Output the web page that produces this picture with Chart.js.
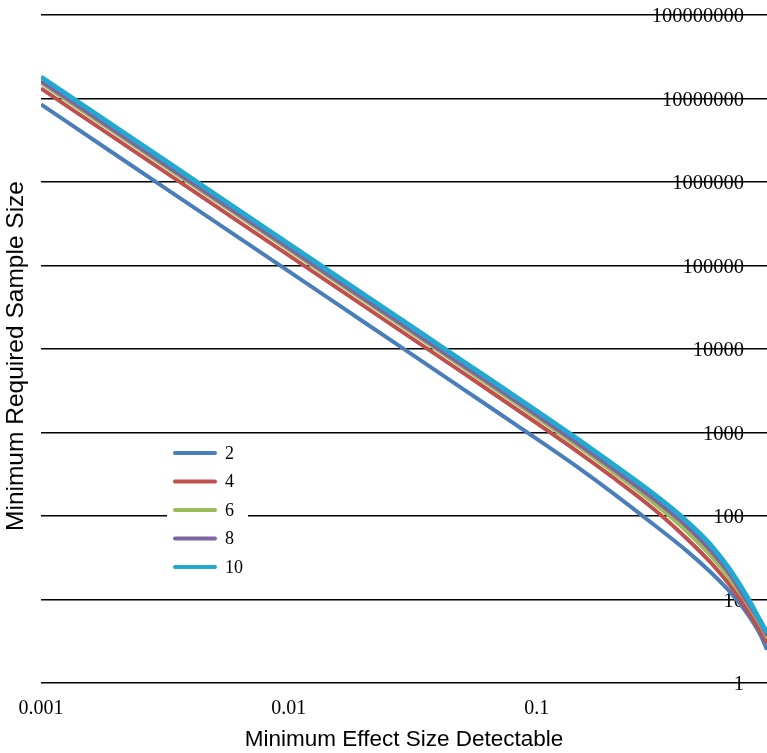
<!DOCTYPE html>
<html>
<head>
<meta charset="utf-8">
<script src="https://cdn.jsdelivr.net/npm/chart.js@4.4.1/dist/chart.umd.min.js"></script>
<style>
  body { margin: 0; background: #fff; }
  #wrap { width: 767px; height: 753px; position: relative; }
</style>
</head>
<body>
<div id="wrap"><canvas id="chart"></canvas></div>
<script>
// значения
const effectSizes = [0.001, 0.002, 0.005, 0.01, 0.02, 0.05, 0.1, 0.15, 0.2, 0.3, 0.4, 0.5, 0.6, 0.7, 0.8, 0.85];
const n2  = [8.5e6, 2.12e6, 3.4e5, 8.5e4, 2.12e4, 3380, 840, 365, 195, 77, 39, 21.6, 12.5, 7.1, 3.75, 2.5];
const n4  = [1.32e7, 3.3e6, 5.28e5, 1.32e5, 3.3e4, 5280, 1300, 560, 300, 118, 55, 28.4, 15, 7.8, 4.1, 3.0];
const n6  = [1.54e7, 3.85e6, 6.16e5, 1.54e5, 3.85e4, 6160, 1520, 653, 350, 139, 67, 34.4, 18, 9.4, 5.0, 3.5];
const n8  = [1.62e7, 4.05e6, 6.48e5, 1.62e5, 4.05e4, 6480, 1620, 702, 380, 156, 77, 39.6, 20.3, 9.8, 5.2, 3.7];
const n10 = [1.81e7, 4.52e6, 7.24e5, 1.81e5, 4.52e4, 7240, 1810, 791, 430, 178, 88, 46, 23, 11.2, 5.5, 4.0];

const seriesLabels = ['2', '4', '6', '8', '10'];
const seriesValues = [n2, n4, n6, n8, n10];
const seriesColors = ['#4A7EBB', '#C0504D', '#9BBB59', '#8064A2', '#23A9D0'];

const xTicks = [0.001, 0.01, 0.1];
const yTicks = [1, 10, 100, 1000, 10000, 100000, 1000000, 10000000, 100000000];

const yTitleText = 'Minimum Required Sample Size';

// легенда внутри области графика + подпись оси Y слева
const extras = {
    id: 'extras',
    afterDraw(chart) {
        const ctx = chart.ctx;
        ctx.save();
        ctx.fillStyle = '#fff';
        ctx.fillRect(167, 440, 81, 142);
        chart.data.datasets.forEach((ds, i) => {
            const y = 453 + i * 28.5;
            ctx.strokeStyle = ds.borderColor;
            ctx.lineWidth = 4;
            ctx.lineCap = 'round';
            ctx.beginPath();
            ctx.moveTo(175, y);
            ctx.lineTo(215, y);
            ctx.stroke();
            ctx.fillStyle = '#000';
            ctx.font = '18px "Liberation Serif"';
            ctx.textBaseline = 'middle';
            ctx.textAlign = 'left';
            ctx.fillText(ds.label, 225, y + 1);
        });

        ctx.translate(16, 356);
        ctx.rotate(-Math.PI / 2);
        ctx.fillStyle = '#000';
        ctx.font = '24.5px "Liberation Sans"';
        ctx.textAlign = 'center';
        ctx.textBaseline = 'middle';
        ctx.fillText(yTitleText, 0, 0);
        ctx.restore();
    }
};

const datasets = seriesValues.map((vals, i) => ({
    label: seriesLabels[i],
    data: effectSizes.map((x, j) => ({ x: x, y: vals[j] })),
    borderColor: seriesColors[i],
    backgroundColor: seriesColors[i],
    borderWidth: i === 4 ? 5 : 4,
    pointRadius: 0,
    cubicInterpolationMode: 'monotone',
    fill: false,
    order: 4 - i
}));

new Chart(document.getElementById('chart'), {
    type: 'line',
    data: { datasets: datasets },
    options: {
        responsive: true,
        maintainAspectRatio: false,
        animation: false,
        layout: { padding: { top: 15, right: 0, bottom: 0, left: 41 } },
        plugins: {
            legend: { display: false },
            tooltip: { enabled: false }
        },
        scales: {
            x: {
                type: 'logarithmic',
                min: 0.001,
                max: 0.85,
                afterBuildTicks: (scale) => { scale.ticks = xTicks.map(v => ({ value: v })); },
                afterFit: (scale) => { scale.height = 70; },
                grid: { display: false, drawTicks: false },
                border: { display: false },
                ticks: {
                    padding: 14,
                    color: '#000',
                    font: { family: 'Liberation Serif', size: 20 },
                    maxRotation: 0,
                    callback: (v) => String(v)
                },
                title: {
                    display: true,
                    text: 'Minimum Effect Size Detectable',
                    color: '#000',
                    font: { family: 'Liberation Sans', size: 22.5 },
                    padding: { top: 0, bottom: 0 }
                }
            },
            y: {
                type: 'logarithmic',
                position: 'right',
                min: 1,
                max: 100000000,
                afterBuildTicks: (scale) => { scale.ticks = yTicks.map(v => ({ value: v })); },
                afterFit: (scale) => { scale.width = 0; },
                grid: { color: '#000', lineWidth: 1.5, drawTicks: false },
                border: { display: false },
                ticks: {
                    mirror: true,
                    padding: -23,
                    labelOffset: 2,
                    color: '#000',
                    font: { family: 'Liberation Serif', size: 20.5 },
                    callback: (v) => String(v)
                }
            }
        }
    },
    plugins: [extras]
});
</script>
</body>
</html>
